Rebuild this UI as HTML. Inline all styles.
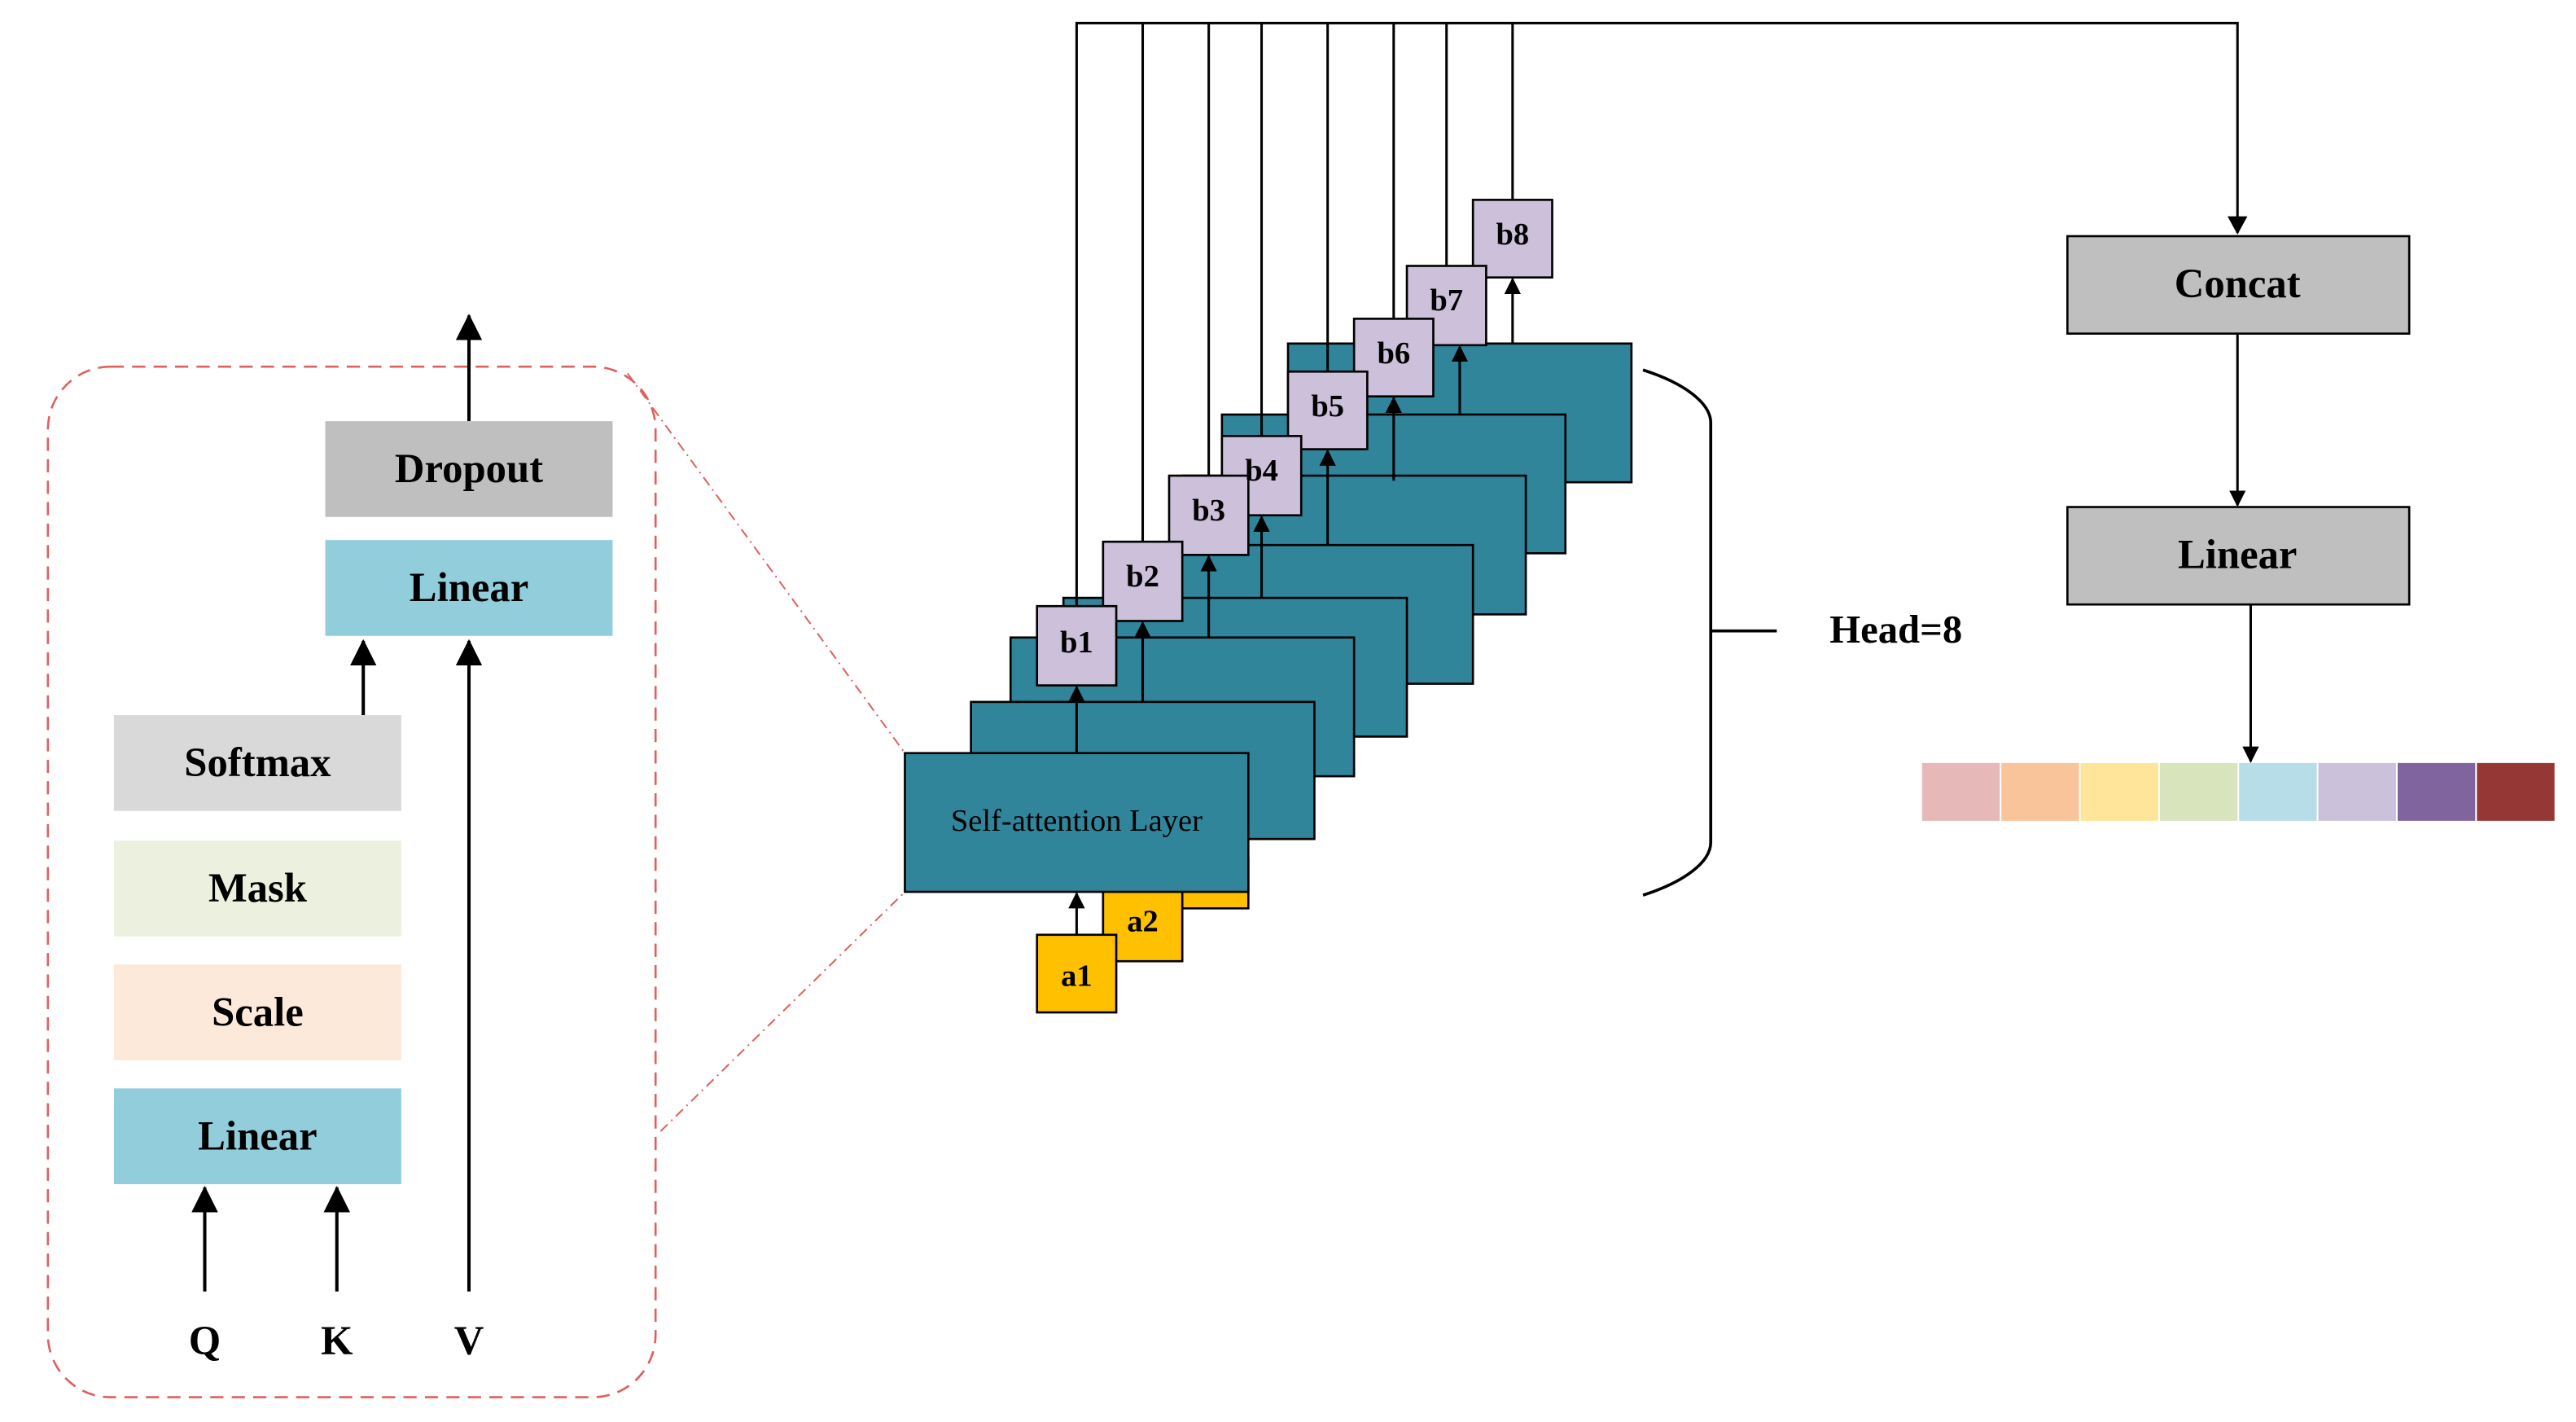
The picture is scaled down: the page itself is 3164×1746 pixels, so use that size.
<!DOCTYPE html>
<html><head><meta charset="utf-8"><style>
html,body{margin:0;padding:0;background:#fff;}
svg{display:block;}
text{font-family:"Liberation Serif",serif;}
.b{font-weight:bold;font-size:25px;text-anchor:middle;}
.s{font-weight:bold;font-size:19px;text-anchor:middle;}
</style></head><body>
<svg width="3164" height="1746" viewBox="0 0 1560 861" preserveAspectRatio="none" xmlns="http://www.w3.org/2000/svg">
<defs>
<marker id="ah" markerWidth="10" markerHeight="10" refX="9" refY="5" orient="auto" markerUnits="userSpaceOnUse" viewBox="0 0 10 10">
<path d="M0,0 L10,5 L0,10 z" fill="#000"/></marker>
<marker id="ahb" markerWidth="16" markerHeight="16" refX="15" refY="8" orient="auto" markerUnits="userSpaceOnUse" viewBox="0 0 16 16">
<path d="M0,0 L16,8 L0,16 z" fill="#000"/></marker>
</defs>

<!-- LEFT PANEL -->
<rect x="29" y="222" width="368" height="624" rx="38" ry="38" fill="none" stroke="#e06060" stroke-width="1.3" stroke-dasharray="8,5"/>
<line x1="380" y1="226" x2="548" y2="456" stroke="#e06060" stroke-width="1" stroke-dasharray="6,3,1,3"/>
<line x1="400" y1="685" x2="548" y2="540" stroke="#e06060" stroke-width="1" stroke-dasharray="6,3,1,3"/>

<line x1="284" y1="255" x2="284" y2="191" stroke="#000" stroke-width="2" marker-end="url(#ahb)"/>
<rect x="197" y="255" width="174" height="58" fill="#bfbfbf"/>
<text class="b" x="284" y="292">Dropout</text>
<rect x="197" y="327" width="174" height="58" fill="#92cddc"/>
<text class="b" x="284" y="364">Linear</text>
<line x1="220" y1="433" x2="220" y2="388" stroke="#000" stroke-width="2" marker-end="url(#ahb)"/>
<line x1="284" y1="782" x2="284" y2="388" stroke="#000" stroke-width="2" marker-end="url(#ahb)"/>
<rect x="69" y="433" width="174" height="58" fill="#d9d9d9"/>
<text class="b" x="156" y="470">Softmax</text>
<rect x="69" y="509" width="174" height="58" fill="#ebf1de"/>
<text class="b" x="156" y="546">Mask</text>
<rect x="69" y="584" width="174" height="58" fill="#fde9d9"/>
<text class="b" x="156" y="621">Scale</text>
<rect x="69" y="659" width="174" height="58" fill="#92cddc"/>
<text class="b" x="156" y="696">Linear</text>
<line x1="124" y1="782" x2="124" y2="719" stroke="#000" stroke-width="2" marker-end="url(#ahb)"/>
<line x1="204" y1="782" x2="204" y2="719" stroke="#000" stroke-width="2" marker-end="url(#ahb)"/>
<text class="b" x="124" y="820">Q</text>
<text class="b" x="204" y="820">K</text>
<text class="b" x="284" y="820">V</text>

<!-- MIDDLE -->
<g fill="#31859b" stroke="#000" stroke-width="1.3">
<rect x="780" y="208" width="208" height="84"/>
<rect x="740" y="251" width="208" height="84"/>
<rect x="716" y="288" width="208" height="84"/>
<rect x="684" y="330" width="208" height="84"/>
<rect x="644" y="362" width="208" height="84"/>
<rect x="612" y="386" width="208" height="84"/>
<rect x="708" y="520" width="48" height="30" fill="#ffc000"/>
<rect x="588" y="425" width="208" height="83"/>
<rect x="668" y="535" width="48" height="47" fill="#ffc000"/>
<rect x="548" y="456" width="208" height="84"/>
<rect x="628" y="566" width="48" height="47" fill="#ffc000"/>
</g>
<text x="652" y="503" font-size="19" text-anchor="middle" fill="#000">Self-attention Layer</text>
<text class="s" x="692" y="564">a2</text>
<text class="s" x="652" y="597">a1</text>
<line x1="652" y1="566" x2="652" y2="541" stroke="#000" stroke-width="1.5" marker-end="url(#ah)"/>

<!-- vertical lines to top -->
<g stroke="#000" stroke-width="1.5" fill="none">
<polyline points="652,367 652,14 1355,14 1355,141"/>
<line x1="692" y1="328" x2="692" y2="14"/>
<line x1="732" y1="288" x2="732" y2="14"/>
<line x1="764" y1="264" x2="764" y2="14"/>
<line x1="804" y1="225" x2="804" y2="14"/>
<line x1="844" y1="193" x2="844" y2="14"/>
<line x1="876" y1="161" x2="876" y2="14"/>
<line x1="916" y1="121" x2="916" y2="14"/>
</g>
<path d="M1349,131 L1361,131 L1355,142 z" fill="#000"/>

<!-- arrows into b boxes -->
<g stroke="#000" stroke-width="1.5" marker-end="url(#ah)">
<line x1="652" y1="456" x2="652" y2="416"/>
<line x1="692" y1="425" x2="692" y2="377"/>
<line x1="732" y1="386" x2="732" y2="337"/>
<line x1="764" y1="362" x2="764" y2="313"/>
<line x1="804" y1="330" x2="804" y2="273"/>
<line x1="844" y1="291" x2="844" y2="241"/>
<line x1="884" y1="251" x2="884" y2="210"/>
<line x1="916" y1="208" x2="916" y2="169"/>
</g>

<!-- b boxes -->
<g fill="#ccc0da" stroke="#000" stroke-width="1.3">
<rect x="892" y="121" width="48" height="47"/>
<rect x="852" y="161" width="48" height="48"/>
<rect x="820" y="193" width="48" height="47"/>
<rect x="780" y="225" width="48" height="47"/>
<rect x="740" y="264" width="48" height="48"/>
<rect x="708" y="288" width="48" height="48"/>
<rect x="668" y="328" width="48" height="48"/>
<rect x="628" y="367" width="48" height="48"/>
</g>
<g class="s">
<text class="s" x="916" y="148">b8</text>
<text class="s" x="876" y="188">b7</text>
<text class="s" x="844" y="220">b6</text>
<text class="s" x="804" y="252">b5</text>
<text class="s" x="764" y="291">b4</text>
<text class="s" x="732" y="315">b3</text>
<text class="s" x="692" y="355">b2</text>
<text class="s" x="652" y="395">b1</text>
</g>

<!-- bracket -->
<path d="M995,224 C1020,232 1036,244 1036,256 L1036,510 C1036,522 1020,534 995,542" fill="none" stroke="#000" stroke-width="1.8"/>
<line x1="1036" y1="382" x2="1076" y2="382" stroke="#000" stroke-width="1.8"/>
<text x="1108" y="389" font-size="24" font-weight="bold">Head=8</text>

<!-- RIGHT -->
<rect x="1252" y="143" width="207" height="59" fill="#bfbfbf" stroke="#000" stroke-width="1.3"/>
<text class="b" x="1355" y="180">Concat</text>
<line x1="1355" y1="202" x2="1355" y2="306" stroke="#000" stroke-width="1.5" marker-end="url(#ah)"/>
<rect x="1252" y="307" width="207" height="59" fill="#bfbfbf" stroke="#000" stroke-width="1.3"/>
<text class="b" x="1355" y="344">Linear</text>
<line x1="1363" y1="366" x2="1363" y2="461" stroke="#000" stroke-width="1.5" marker-end="url(#ah)"/>
<g>
<rect x="1164" y="462" width="47" height="35" fill="#e6b8b7"/>
<rect x="1212" y="462" width="47" height="35" fill="#f9c49a"/>
<rect x="1260" y="462" width="47" height="35" fill="#fee599"/>
<rect x="1308" y="462" width="47" height="35" fill="#d8e4bc"/>
<rect x="1356" y="462" width="47" height="35" fill="#b7dde8"/>
<rect x="1404" y="462" width="47" height="35" fill="#ccc1da"/>
<rect x="1452" y="462" width="47" height="35" fill="#7f649e"/>
<rect x="1500" y="462" width="47" height="35" fill="#953735"/>
</g>
</svg>
</body></html>
